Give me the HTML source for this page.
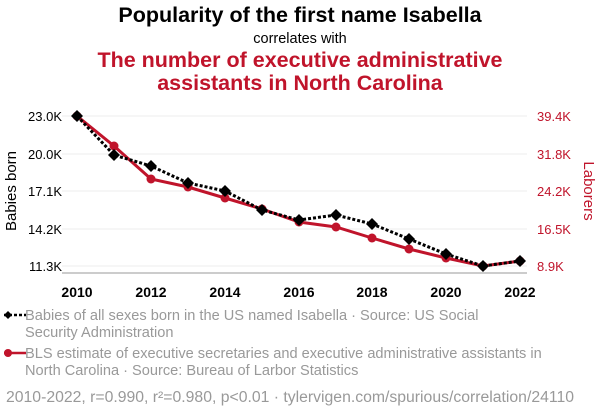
<!DOCTYPE html>
<html><head><meta charset="utf-8"><style>
body{margin:0;background:#fff;width:600px;height:414px;overflow:hidden;font-family:"Liberation Sans",sans-serif}
</style></head><body>
<svg width="600" height="414" xmlns="http://www.w3.org/2000/svg" font-family="Liberation Sans, sans-serif">
<text x="300" y="22" text-anchor="middle" font-size="21.5" font-weight="bold" fill="#000">Popularity of the first name Isabella</text>
<text x="300" y="43" text-anchor="middle" font-size="14.5" fill="#000">correlates with</text>
<text x="300" y="67" text-anchor="middle" font-size="21.5" font-weight="bold" fill="#c0142b">The number of executive administrative</text>
<text x="300" y="90" text-anchor="middle" font-size="21.5" font-weight="bold" fill="#c0142b">assistants in North Carolina</text>
<g stroke="#eee" stroke-width="1">
<line x1="62" x2="527" y1="116" y2="116"/><line x1="62" x2="527" y1="154" y2="154"/><line x1="62" x2="527" y1="191" y2="191"/><line x1="62" x2="527" y1="229" y2="229"/><line x1="62" x2="527" y1="266" y2="266"/>
</g>
<line x1="62" x2="527" y1="273" y2="273" stroke="#999"/>
<g font-size="13" fill="#000" text-anchor="end">
<text x="62" y="121">23.0K</text><text x="62" y="159">20.0K</text><text x="62" y="196">17.1K</text><text x="62" y="234">14.2K</text><text x="62" y="271">11.3K</text>
</g>
<g font-size="13" fill="#c0142b" text-anchor="start">
<text x="537" y="121">39.4K</text><text x="537" y="159">31.8K</text><text x="537" y="196">24.2K</text><text x="537" y="234">16.5K</text><text x="537" y="271">8.9K</text>
</g>
<g font-size="14" font-weight="bold" text-anchor="middle">
<text x="77" y="297">2010</text><text x="151" y="297">2012</text><text x="225" y="297">2014</text><text x="299" y="297">2016</text><text x="372" y="297">2018</text><text x="446" y="297">2020</text><text x="520" y="297">2022</text>
</g>
<text transform="translate(16,191) rotate(-90)" text-anchor="middle" font-size="15">Babies born</text>
<text transform="translate(584,191) rotate(90)" text-anchor="middle" font-size="15" fill="#c0142b">Laborers</text>
<polyline fill="none" stroke="#c0142b" stroke-width="3" points="77,116 114,146 151,179 188,187 225,198 262,209 299,222 336,227 372,238 409,249 446,258 483,266 520,261"/>
<g fill="#c0142b">
<circle cx="77" cy="116" r="4.5"/><circle cx="114" cy="146" r="4.5"/><circle cx="151" cy="179" r="4.5"/><circle cx="188" cy="187" r="4.5"/><circle cx="225" cy="198" r="4.5"/><circle cx="262" cy="209" r="4.5"/><circle cx="299" cy="222" r="4.5"/><circle cx="336" cy="227" r="4.5"/><circle cx="372" cy="238" r="4.5"/><circle cx="409" cy="249" r="4.5"/><circle cx="446" cy="258" r="4.5"/><circle cx="483" cy="266" r="4.5"/><circle cx="520" cy="261" r="4.5"/>
</g>
<polyline fill="none" stroke="#000" stroke-width="3" stroke-dasharray="3,2" points="77,116 114,155 151,166 188,183 225,191 262,210 299,220 336,215 372,224 409,239 446,254 483,266 520,261"/>
<g fill="#000">
<path d="M77,110l6,6l-6,6l-6,-6z"/><path d="M114,149l6,6l-6,6l-6,-6z"/><path d="M151,160l6,6l-6,6l-6,-6z"/><path d="M188,177l6,6l-6,6l-6,-6z"/><path d="M225,185l6,6l-6,6l-6,-6z"/><path d="M262,204l6,6l-6,6l-6,-6z"/><path d="M299,214l6,6l-6,6l-6,-6z"/><path d="M336,209l6,6l-6,6l-6,-6z"/><path d="M372,218l6,6l-6,6l-6,-6z"/><path d="M409,233l6,6l-6,6l-6,-6z"/><path d="M446,248l6,6l-6,6l-6,-6z"/><path d="M483,260l6,6l-6,6l-6,-6z"/><path d="M520,255l6,6l-6,6l-6,-6z"/>
</g>
<line x1="4" x2="26" y1="315" y2="315" stroke="#000" stroke-width="2.5" stroke-dasharray="3,2"/>
<path d="M8,311l4,4l-4,4l-4,-4z" fill="#000"/>
<line x1="4" x2="26" y1="353" y2="353" stroke="#c0142b" stroke-width="2.5"/>
<circle cx="8" cy="353" r="4" fill="#c0142b"/>
<g font-size="14.6" fill="#999">
<text x="25" y="320">Babies of all sexes born in the US named Isabella · Source: US Social</text>
<text x="25" y="337">Security Administration</text>
<text x="25" y="358">BLS estimate of executive secretaries and executive administrative assistants in</text>
<text x="25" y="375">North Carolina · Source: Bureau of Larbor Statistics</text>
</g>
<text x="6" y="402" font-size="15.5" fill="#999" textLength="568" lengthAdjust="spacingAndGlyphs">2010-2022, r=0.990, r²=0.980, p&lt;0.01 · tylervigen.com/spurious/correlation/24110</text>
</svg>
</body></html>
